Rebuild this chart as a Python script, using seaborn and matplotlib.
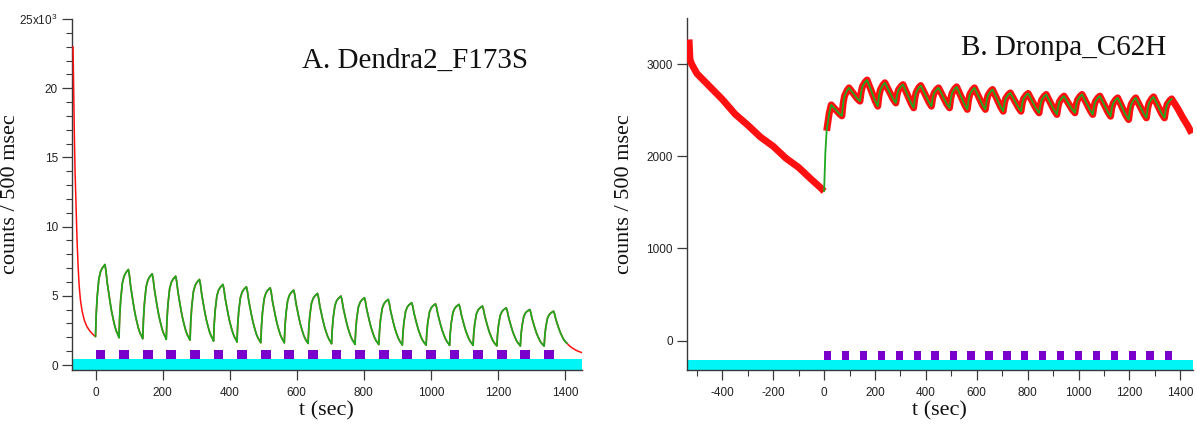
import numpy as np
import pandas as pd
import matplotlib
matplotlib.use("Agg")
import matplotlib.pyplot as plt
import seaborn as sns
from matplotlib.ticker import MultipleLocator, FixedLocator

# ---------------- data ----------------
pulse_starts = [0, 70, 141, 211, 282, 352, 422, 493, 563, 634,
                704, 774, 845, 915, 986, 1056, 1126, 1197, 1267, 1338]
pulse_width = 29

# Panel A (Dendra2_F173S)
a_pre_t = [-67, -65, -63, -61, -58, -55, -52, -49, -45, -40, -33, -25, -15, -5, 0]
a_pre_v = [23000, 19500, 16500, 14000, 11500, 9000, 7200, 5800, 4700, 3900,
           3200, 2750, 2400, 2150, 2050]
a_troughs = [2050, 1970, 1900, 1850, 1800, 1730, 1660, 1610, 1600, 1560,
             1540, 1490, 1480, 1440, 1440, 1420, 1420, 1380, 1370, 1370]
a_peaks = [7260, 6900, 6590, 6420, 6180, 5820, 5650, 5580, 5410, 5170,
           4980, 4860, 4740, 4500, 4420, 4380, 4260, 4130, 4010, 3890]
a_end_trough = 1500
a_tail_t = [1406, 1415, 1425, 1437, 1450]
a_tail_v = [1572, 1350, 1180, 1020, 900]
a_rise_off = [0, 2, 5, 10, 15, 20, 25, 28]
a_rise_frac = [0, 0.3, 0.55, 0.8, 0.9, 0.95, 0.98, 1.0]
a_decay_off = [31, 35, 39, 43, 48, 53, 58, 63, 68]
a_decay_frac = [0.92, 0.75, 0.62, 0.5, 0.36, 0.25, 0.15, 0.08, 0.03]

# Panel B (Dronpa_C62H)
b_pre_t = [-531, -527, -520, -500, -450, -400, -350, -300, -250, -200,
           -150, -100, -50, -10, 0]
b_pre_v = [3270, 3050, 3000, 2900, 2760, 2620, 2460, 2340, 2210, 2110,
           1980, 1880, 1750, 1650, 1620]
b_troughs = [1620, 2440, 2600, 2545, 2580, 2527, 2545, 2527, 2510, 2510,
             2490, 2490, 2473, 2455, 2473, 2455, 2436, 2400, 2418, 2418]
b_peaks = [2560, 2745, 2830, 2800, 2780, 2770, 2745, 2756, 2745, 2727,
           2690, 2684, 2673, 2655, 2673, 2655, 2636, 2636, 2647, 2625]
b_tail_t = [1366, 1390, 1410, 1430, 1445]
b_tail_v = [2625, 2520, 2420, 2330, 2250]
b_rise_off = [0, 5, 10, 20, 28]
b_rise_frac = [0, 0.45, 0.7, 0.9, 1.0]
b_decay_off = [40, 50, 60]
b_decay_frac = [0.7, 0.45, 0.2]

a_yticks = [0, 5000, 10000, 15000, 20000, 25000]
a_yticklabels = ["0", "5", "10", "15", "20", "25x10$^3$"]
a_xticks = [0, 200, 400, 600, 800, 1000, 1200, 1400]
b_yticks = [0, 1000, 2000, 3000]
b_yticklabels = ["0", "1000", "2000", "3000"]
b_xticks = [-400, -200, 0, 200, 400, 600, 800, 1000, 1200, 1400]


def cycles(starts, troughs, peaks, end_trough, r_off, r_frac, d_off, d_frac, last_decay=True):
    t, v = [], []
    n = len(starts)
    for i in range(n):
        s, tr, pk = starts[i], troughs[i], peaks[i]
        nxt = troughs[i + 1] if i < n - 1 else end_trough
        for o, f in zip(r_off, r_frac):
            t.append(s + o)
            v.append(tr + (pk - tr) * f)
        if i < n - 1 or last_decay:
            for o, f in zip(d_off, d_frac):
                t.append(s + o)
                v.append(nxt + (pk - nxt) * f)
    return t, v


a_cyc_t, a_cyc_v = cycles(pulse_starts, a_troughs, a_peaks, a_end_trough,
                          a_rise_off, a_rise_frac, a_decay_off, a_decay_frac)
b_cyc_t, b_cyc_v = cycles(pulse_starts, b_troughs, b_peaks, None,
                          b_rise_off, b_rise_frac, b_decay_off, b_decay_frac,
                          last_decay=False)

# ---------------- style ----------------
sns.set_style("ticks")
plt.rcParams["font.family"] = ["Liberation Sans", "DejaVu Sans"]
plt.rcParams["mathtext.fontset"] = "custom"
plt.rcParams["mathtext.rm"] = "Liberation Sans"
plt.rcParams["axes.unicode_minus"] = False

RED = "#ff1010"
GREEN = "#1fa81f"
CYAN = "#00f6f6"
PURPLE = "#7a00cc"
AXC = "#3a3a3a"
SERIF = ["Liberation Serif", "DejaVu Serif"]

fig = plt.figure(figsize=(11.97, 4.25), dpi=100)
ax1 = fig.add_axes([71.7 / 1197, 55 / 425, 510 / 1197, 351 / 425])
ax2 = fig.add_axes([686.7 / 1197, 55 / 425, 506.3 / 1197, 351.7 / 425])

# ---- Panel A ----
ax1.set_xlim(-71, 1450)
ax1.set_ylim(-360, 25000)
ax1.axhspan(-360, 430, color=CYAN, lw=0, zorder=1)
ax1.bar(pulse_starts, [650] * len(pulse_starts), width=pulse_width, bottom=430,
        align="edge", color=PURPLE, lw=0, zorder=2)
red_a_t = a_pre_t + a_cyc_t + a_tail_t
red_a_v = a_pre_v + a_cyc_v + a_tail_v
sns.lineplot(x=red_a_t, y=red_a_v, ax=ax1, color=RED, lw=1.1, estimator=None, sort=False, zorder=3)
sns.lineplot(x=a_cyc_t, y=a_cyc_v, ax=ax1, color=GREEN, lw=1.3, estimator=None, sort=False, zorder=4)
ax1.yaxis.set_major_locator(FixedLocator(a_yticks))
ax1.set_yticklabels(a_yticklabels)
ax1.yaxis.set_minor_locator(MultipleLocator(1000))
ax1.xaxis.set_major_locator(FixedLocator(a_xticks))
ax1.text(0.673, 0.860, "A. Dendra2_F173S", transform=ax1.transAxes, ha="center",
         va="baseline", fontsize=21, family=SERIF, color="#111111")

# ---- Panel B ----
ax2.set_xlim(-540, 1450)
ax2.set_ylim(-320, 3500)
ax2.axhspan(-320, -210, color=CYAN, lw=0, zorder=1)
ax2.bar(pulse_starts, [98] * len(pulse_starts), width=pulse_width, bottom=-210,
        align="edge", color=PURPLE, lw=0, zorder=2)
sns.lineplot(x=b_pre_t, y=b_pre_v, ax=ax2, color=RED, lw=5, estimator=None, sort=False,
             zorder=3, solid_capstyle="butt", solid_joinstyle="round")
red_b_t = b_cyc_t[2:] + b_tail_t
red_b_v = b_cyc_v[2:] + b_tail_v
sns.lineplot(x=red_b_t, y=red_b_v, ax=ax2, color=RED, lw=5, estimator=None, sort=False,
             zorder=3, solid_capstyle="butt", solid_joinstyle="round")
sns.lineplot(x=b_cyc_t, y=b_cyc_v, ax=ax2, color=GREEN, lw=1.3, estimator=None, sort=False, zorder=4)
ax2.yaxis.set_major_locator(FixedLocator(b_yticks))
ax2.set_yticklabels(b_yticklabels)
ax2.xaxis.set_major_locator(FixedLocator(b_xticks))
ax2.xaxis.set_minor_locator(MultipleLocator(100))
ax2.text(0.745, 0.8957, "B. Dronpa_C62H", transform=ax2.transAxes, ha="center",
         va="baseline", fontsize=21, family=SERIF, color="#111111")

for ax in (ax1, ax2):
    sns.despine(ax=ax)
    for sp in ("left", "bottom"):
        ax.spines[sp].set_color(AXC)
        ax.spines[sp].set_linewidth(1.0)
    ax.tick_params(which="major", direction="out", length=7, width=0.9, color=AXC,
                   labelsize=8.5, labelcolor="#222222")
    ax.tick_params(which="minor", direction="out", length=4, width=0.8, color=AXC)
    ax.tick_params(axis="x", which="major", pad=5)
    ax.tick_params(axis="y", which="major", pad=3)
    ax.set_xlabel("t (sec)", fontsize=16, family=SERIF, color="#111111")
    ax.set_ylabel("counts / 500 msec", fontsize=16, family=SERIF, color="#111111")
    ax.xaxis.set_label_coords(0.5, -0.09)
    ax.grid(False)

ax1.yaxis.set_label_coords(-0.101, 0.5)
ax2.yaxis.set_label_coords(-0.104, 0.5)

fig.savefig("out.png", dpi=100)
